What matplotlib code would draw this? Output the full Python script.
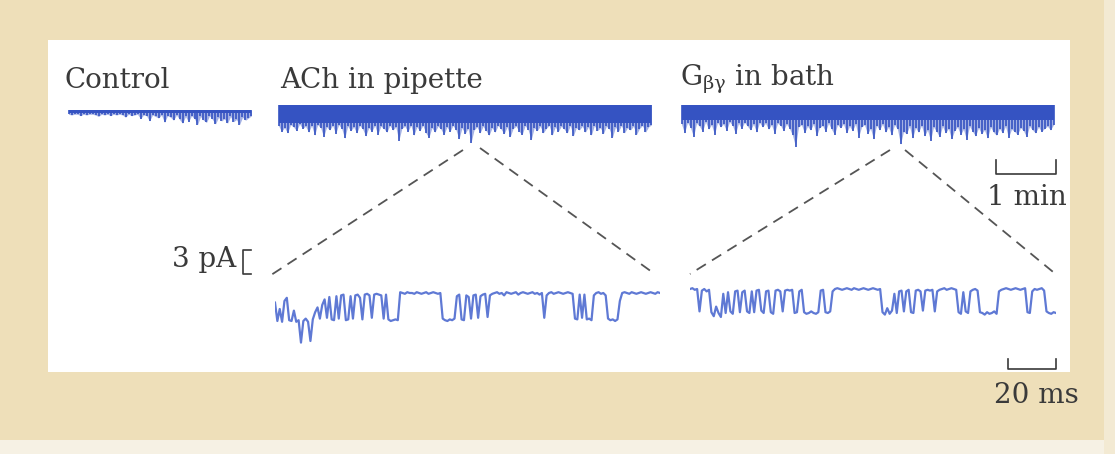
# -*- coding: utf-8 -*-
"""
Single-channel recordings: Control / ACh in pipette / G-beta-gamma in bath.
Top row: slow (minute-scale) records; bottom row: expanded 20 ms-scale openings.
"""
import numpy as np
import matplotlib
matplotlib.use('Agg')
import matplotlib.pyplot as plt
from matplotlib.patches import Rectangle
from matplotlib.lines import Line2D
import matplotlib.transforms as mtransforms

plt.rcParams['font.family'] = ['DejaVu Serif']
plt.rcParams['mathtext.fontset'] = 'dejavuserif'

# ── data ──────────────────────────────────────────────────────────────────────
# slow records: peak inward current (pA, below closed level), one value per 3 s
TOP_DT = 3.0
control_depth = [0.5, 0.6, 0.5, 0.5, 0.7, 0.5, 0.6, 0.5, 0.5, 0.6,
                 0.8, 0.5, 0.6, 0.5, 0.7, 0.5, 0.6, 0.5, 0.6, 0.9,
                 0.5, 0.7, 0.6, 0.5, 1.1, 0.6, 0.7, 1.4, 0.6, 0.8,
                 1.0, 0.6, 1.6, 0.7, 0.9, 1.3, 0.6, 1.2, 1.7, 0.8,
                 1.5, 0.7, 1.1, 1.9, 0.8, 1.3, 1.6, 0.7, 1.2, 1.8,
                 0.9, 1.4, 1.1, 1.7, 0.8, 1.5, 1.2, 1.9, 0.9, 1.3,
                 1.0, 0.7]
ach_depth = [2.8, 3.6, 3.1, 3.8, 2.7, 3.0, 3.5, 2.6, 3.2, 2.9,
             3.7, 2.8, 4.1, 2.7, 3.1, 4.3, 3.0, 3.4, 2.8, 3.9,
             2.7, 3.2, 4.5, 2.9, 3.5, 3.0, 3.8, 2.8, 3.3, 4.2,
             3.1, 3.6, 2.8, 4.0, 2.9, 3.2, 3.7, 2.8, 3.4, 3.0,
             4.8, 3.2, 2.9, 3.6, 2.8, 4.1, 3.0, 3.5, 2.8, 3.8,
             4.4, 3.1, 3.7, 2.9, 3.3, 4.0, 3.0, 3.6, 2.8, 3.4,
             4.6, 3.1, 3.9, 3.2, 5.1, 3.4, 3.0, 3.8, 2.9, 3.5,
             4.1, 3.1, 3.7, 2.8, 3.3, 3.9, 3.0, 4.3, 3.2, 2.9,
             3.6, 4.0, 2.8, 3.4, 4.7, 3.1, 3.5, 2.9, 3.8, 3.2,
             2.8, 4.1, 3.0, 3.6, 2.9, 3.3, 3.8, 2.8, 4.2, 3.1,
             3.4, 2.9, 3.7, 3.0, 4.1, 2.8, 3.5, 3.1, 3.9, 2.9,
             3.3, 4.4, 3.0, 3.6, 2.8, 3.8, 3.1, 3.4, 2.9, 4.0,
             3.2, 2.8, 3.7, 3.0, 2.7]
gbg_depth = [2.6, 3.8, 2.4, 3.1, 4.3, 2.5, 2.9, 3.6, 2.3, 3.3,
             2.7, 4.0, 2.4, 3.0, 2.6, 3.5, 2.3, 2.8, 3.9, 2.5,
             3.2, 2.4, 2.9, 3.4, 2.6, 3.7, 2.4, 3.0, 2.5, 3.3,
             2.7, 3.9, 2.5, 2.8, 3.5, 2.6, 3.2, 4.1, 5.6, 3.0,
             2.7, 3.8, 2.9, 3.4, 2.6, 4.2, 3.1, 2.8, 3.6, 2.5,
             3.3, 4.0, 2.7, 3.1, 2.6, 3.8, 2.9, 3.5, 2.6, 4.4,
             3.0, 2.7, 3.9, 3.2, 4.6, 2.8, 3.4, 2.6, 3.7, 3.0,
             4.1, 2.7, 3.3, 5.3, 3.6, 3.9, 2.9, 4.5, 3.1, 3.7,
             2.8, 4.2, 3.4, 4.8, 3.0, 3.6, 4.3, 2.9, 3.8, 3.2,
             4.6, 3.5, 3.0, 4.0, 3.3, 4.7, 2.9, 3.6, 4.2, 3.1,
             3.9, 3.4, 4.5, 3.0, 3.7, 4.1, 3.2, 3.8, 2.9, 4.4,
             3.3, 3.6, 4.0, 3.1, 3.5, 4.3, 2.9, 3.4, 3.8, 3.0,
             3.6, 3.2, 2.9, 3.4, 2.7]
# solid part of each slow record (pA)
control_band = 0.4
ach_band = 2.4
gbg_band = 2.0

# expanded records: current (pA), one value per 1 ms
FAST_DT = 1.0
ach_fast = [-1.2, -3.5, -2.0, -3.6, -1.0, -0.6, -3.4, -3.5, -2.2, -3.6,
            -3.4, -6.2, -3.5, -3.2, -3.6, -6.0, -3.3,
            -2.4, -1.8, -3.2, -1.5, -0.8, -3.1,
            -0.5, -3.3, -3.4, -0.4, -3.2, -0.3, -0.2, -3.4, -3.3, -0.4,
            -3.2, -0.3, -0.2, -0.6, -3.3, -0.2, -0.1, -0.3, -3.1, -0.2,
            -0.1, -0.2, -0.3, -3.2, -0.2,
            -3.3, -3.5, -3.4, -3.3, -3.4,
            0.1, 0.0, -0.1, 0.1, 0.0, 0.0, -0.1, 0.1, 0.0, -0.1,
            0.0, 0.1, -0.1, 0.0, 0.1, 0.0, -0.1, 0.0,
            -3.2, -3.4, -3.5, -3.3, -3.4, -3.2,
            -0.4, -0.2, -3.3, -3.4, -0.3, -0.5, -3.2, -0.3, -0.2, -3.1,
            -0.4, -0.2, -0.1, -3.0, -0.3, -0.1,
            0.0, 0.1, -0.1, 0.0, -0.3, 0.1, 0.0, -0.1, 0.0, 0.1,
            -0.2, 0.0, 0.1, 0.0, -0.1, 0.0, 0.1, -0.1, 0.0, -0.2, 0.0,
            -3.1, -0.3,
            0.0, 0.1, -0.1, 0.0, 0.1, 0.0, -0.1, 0.0, 0.1, 0.0, -0.1,
            -3.2, -3.3, -0.2, -3.1,
            -0.2,
            -3.3, -3.2, -3.4, -0.3,
            0.0, 0.1, -0.1, 0.0, -0.3,
            -3.2, -3.4, -3.3, -3.5, -3.3, -1.0,
            0.0, 0.1, 0.0, -0.1, 0.1, 0.0, -0.1, 0.0, 0.1, 0.0,
            -0.1, 0.0, 0.1, 0.0, -0.1, 0.1, 0.0]
gbg_fast = [0.0, 0.1, -0.1, 0.0,
            -2.8,
            -0.2, 0.0, -0.3, -0.1,
            -2.9, -3.4, -2.2, -3.0, -3.5, -0.6,
            -3.0, -0.4, -2.8, -3.1, -0.3, -0.2, -2.9, -0.4, -0.2,
            -2.8, -3.0, -0.3, -2.9, -0.2, -0.1, -2.7, -3.0, -0.3, -0.2,
            -2.9, -3.1, -0.2, -0.1, -0.3, -2.8, -0.2, -0.1, -0.2,
            -0.1, -3.0, -2.9, -0.3, -0.1,
            -2.9, -3.1, -3.0, -2.8, -3.0, -3.1, -2.9, -0.2,
            -0.1, -2.9, -3.0, -2.8, -0.3,
            0.0, 0.1, 0.0, -0.1, 0.0, 0.1, 0.0, -0.1, 0.1, 0.0,
            -0.1, 0.0, 0.1, 0.0, -0.1, 0.0, 0.1, 0.0, -0.1, 0.0,
            -2.9, -3.2, -2.4, -3.1, -2.7, -0.6, -3.0, -0.3,
            -0.2, -2.8, -0.3, -0.1, -2.9, -3.0, -0.2, -0.1, -0.3, -2.7,
            -0.2, -0.1, -0.2, -0.1, -2.8, -0.3, -0.1,
            0.0, 0.1, -0.1, 0.0, 0.1, 0.0, -0.1,
            -2.9, -3.1, -0.4, -2.8, -3.0, -0.3,
            -0.1, 0.0, -0.2,
            -2.9, -3.0, -3.2, -2.9, -3.1, -3.0, -2.8, -3.1, -0.3,
            -0.1, 0.0, 0.1, 0.0, -0.1, 0.0, 0.1, 0.0, -0.1, 0.0, 0.1,
            -2.9, -3.0, -0.3,
            0.0, -0.1, 0.0, 0.1, -0.2,
            -2.8, -3.0, -3.1, -2.9, -3.0]

labels = ['Control', 'ACh in pipette', r'G$_{\mathregular{βγ}}$ in bath']
scale_top_s = 60.0      # 1 min
scale_fast_ms = 20.0    # 20 ms
scale_amp_pa = 3.0      # 3 pA

# ── layout helpers (figure pixels, origin top-left) ───────────────────────────
W, H = 1115, 454
BEIGE = '#eedfb9'
TRACE = '#3553c2'
FAST = '#4d6ad0'
INK = '#3a3a3a'


def box(x0, y0, x1, y1):
    return [x0 / W, 1 - y1 / H, (x1 - x0) / W, (y1 - y0) / H]


fig = plt.figure(figsize=(W / 100, H / 100), dpi=100, facecolor=BEIGE)

ov = fig.add_axes([0, 0, 1, 1])
ov.set_xlim(0, W)
ov.set_ylim(H, 0)
ov.axis('off')
ov.add_patch(Rectangle((0, 440), W, 14, color='#f6f1e4', lw=0))
ov.add_patch(Rectangle((1104, 0), 11, H, color='#f3ead3', lw=0))
ov.add_patch(Rectangle((48, 40), 1022, 332, color='white', lw=0))


def slow_axes(rect, depth, band):
    ax = fig.add_axes(rect)
    ax.set_axis_off()
    t = np.arange(len(depth)) * TOP_DT
    d = np.asarray(depth)
    ax.fill_between(t, -band, 0, color=TRACE, lw=0)
    ax.fill_between(t, -d, 0, color=TRACE, lw=0, alpha=0.45)
    ax.vlines(t, -d, 0, color=TRACE, lw=1.2)
    ax.set_xlim(-TOP_DT / 2, t[-1] + TOP_DT / 2)
    ax.set_ylim(-7.4, 0.6)
    return ax


ax_ctrl = slow_axes(box(67, 106, 253, 166), control_depth, control_band)
ax_ach = slow_axes(box(277, 100, 653, 160), ach_depth, ach_band)
ax_gbg = slow_axes(box(680, 100, 1055, 160), gbg_depth, gbg_band)


def fast_axes(rect, trace):
    ax = fig.add_axes(rect)
    ax.set_axis_off()
    t = np.arange(len(trace)) * FAST_DT
    ax.plot(t, trace, color=FAST, lw=1.6, alpha=0.9, solid_joinstyle='round')
    ax.set_xlim(0, t[-1])
    ax.set_ylim(-7.25, 1.5)
    return ax


ax_f1 = fast_axes(box(275, 281, 660, 351), ach_fast)
ax_f2 = fast_axes(box(690, 277, 1056, 347), gbg_fast)

# ── scale bars ───────────────────────────────────────────────────────────────
x1 = 314.0
ax_gbg.plot([x1, x1, x1 + scale_top_s, x1 + scale_top_s],
            [-7.4, -9.3, -9.3, -7.4], color=INK, lw=1.2, clip_on=False)
x2 = 134.0
ax_f2.plot([x2, x2, x2 + scale_fast_ms, x2 + scale_fast_ms],
           [-8.8, -10.0, -10.0, -8.8], color=INK, lw=1.2, clip_on=False)
tr = mtransforms.blended_transform_factory(ax_f1.transAxes, ax_f1.transData)
ax_f1.plot([-0.062, -0.083, -0.083, -0.062],
           [5.4, 5.4, 5.4 - scale_amp_pa, 5.4 - scale_amp_pa],
           color=INK, lw=1.2, transform=tr, clip_on=False)

# ── zoom connectors ──────────────────────────────────────────────────────────
dash = dict(color='#555555', lw=1.3, ls=(0, (6, 4)))
for (xa, ya), (xb, yb) in [((463, 150), (268, 277)), ((480, 148), (652, 272)),
                           ((890, 150), (690, 274)), ((905, 150), (1058, 276))]:
    ov.add_line(Line2D([xa, xb], [ya, yb], **dash))

# ── labels ──────────────────────────────────────────────────────────────────
txt = dict(color=INK, fontsize=20, va='baseline')
ov.text(64, 88, labels[0], ha='left', **txt)
ov.text(280, 88, labels[1], ha='left', **txt)
ov.text(680, 86, labels[2], ha='left', **txt)
ov.text(1027, 205, '1 min', ha='center', **txt)
ov.text(1036, 403, '20 ms', ha='center', **txt)
ov.text(236, 267, '3 pA', ha='right', **txt)

fig.savefig('out.png', dpi=100, facecolor=BEIGE)
